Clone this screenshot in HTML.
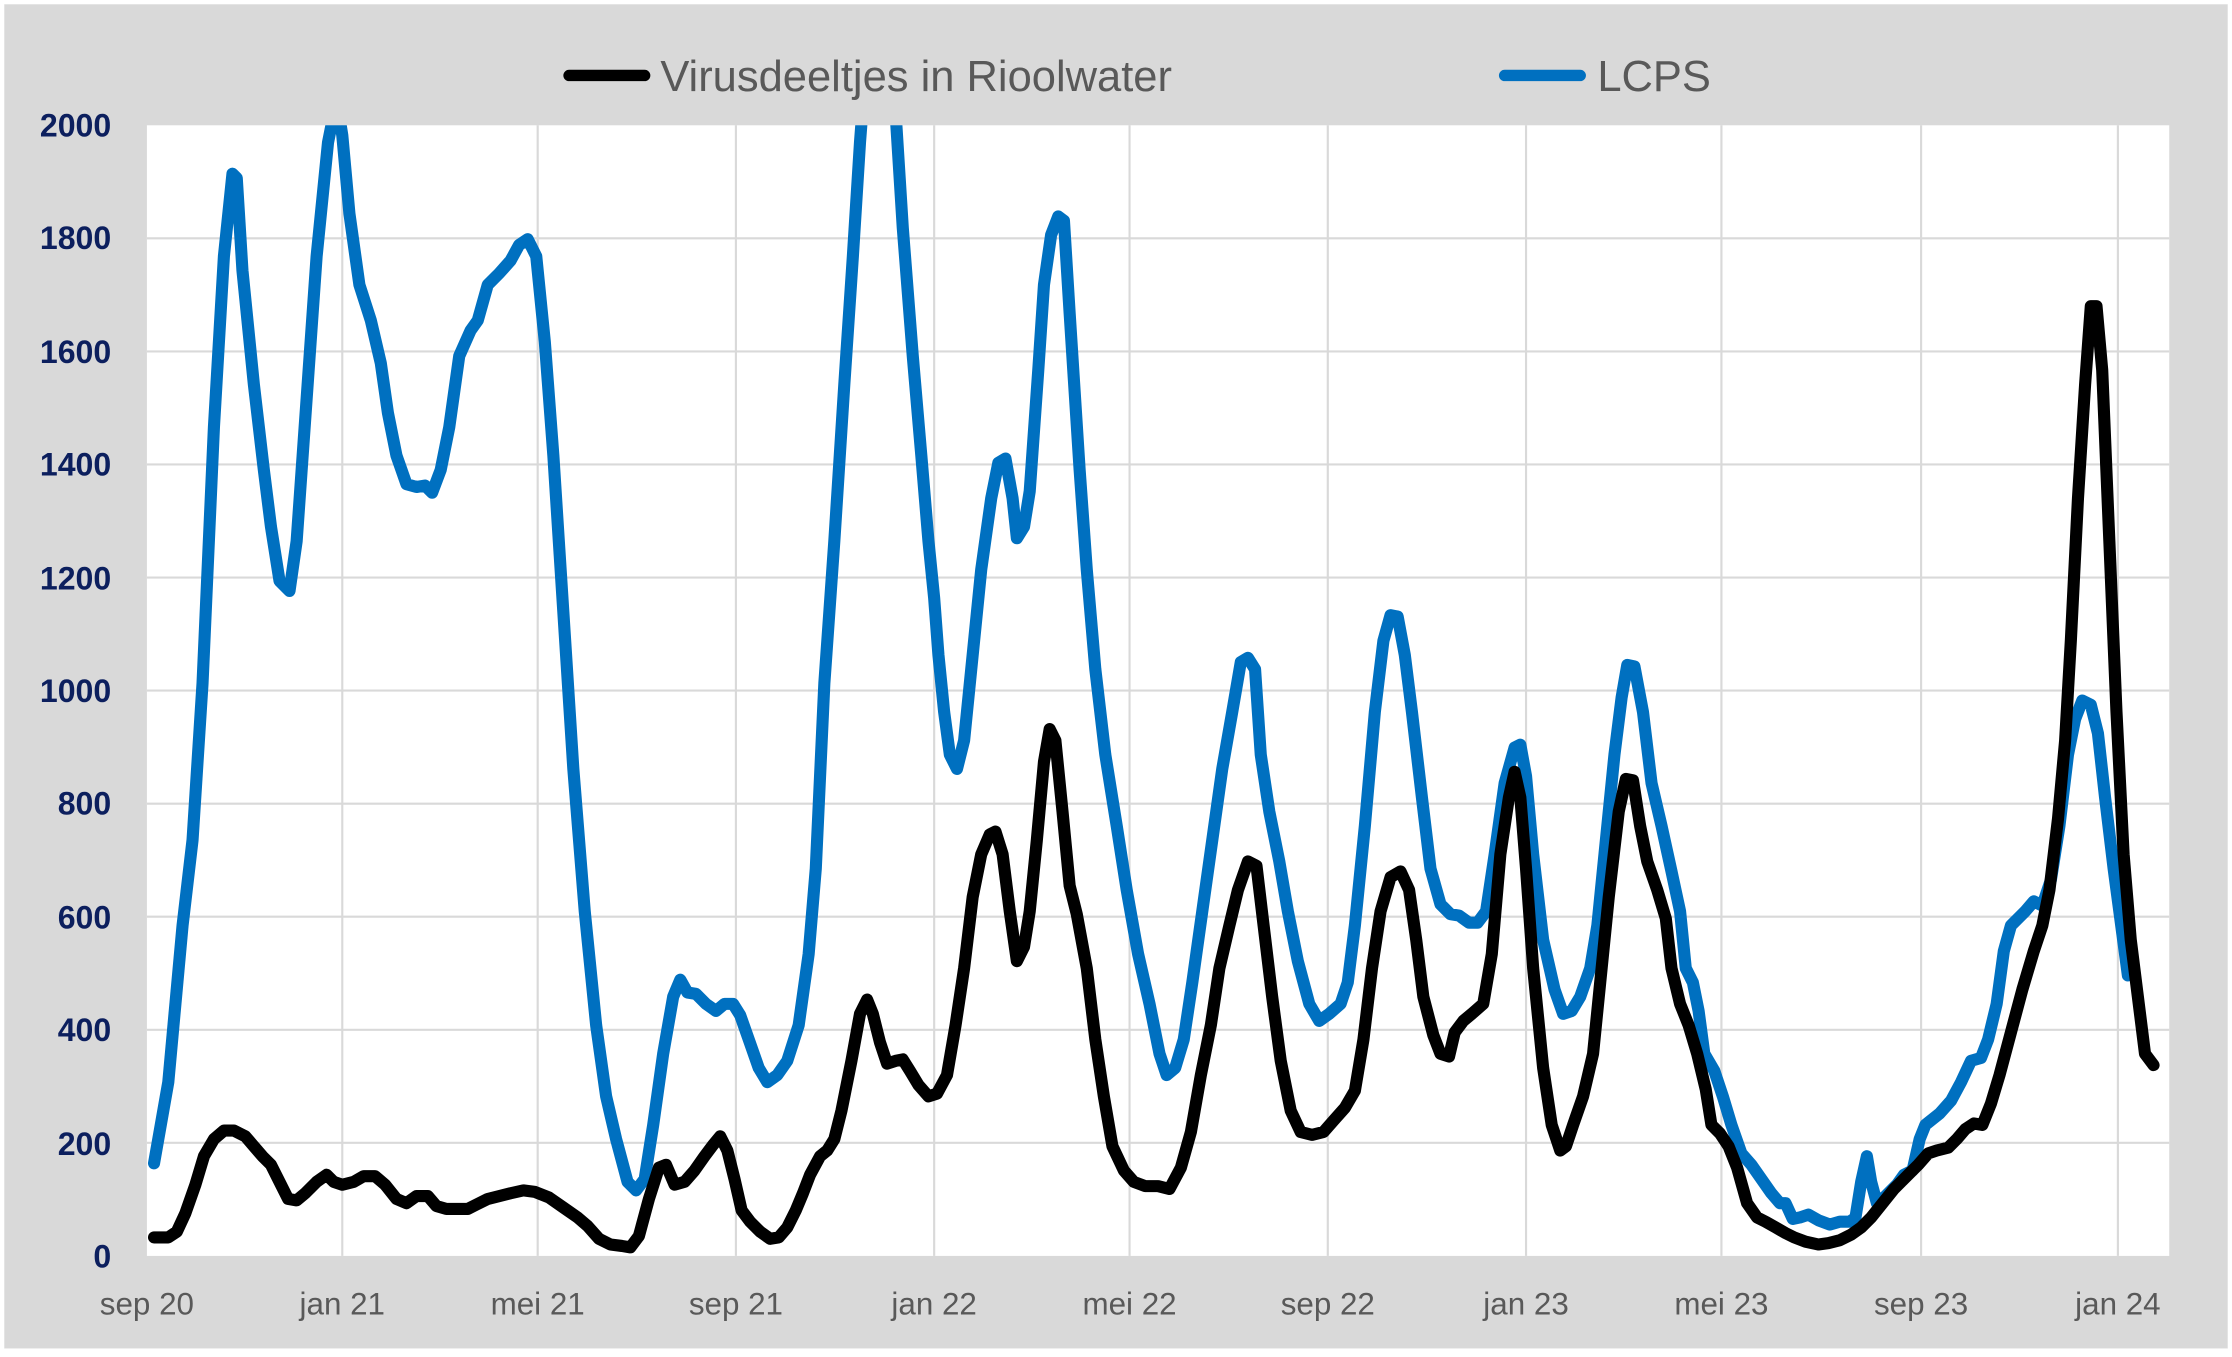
<!DOCTYPE html>
<html><head><meta charset="utf-8"><style>
html,body{margin:0;padding:0;background:#fff;}
svg{display:block;}
text{font-family:"Liberation Sans",sans-serif;}
</style></head><body>
<svg width="2232" height="1357" viewBox="0 0 1565 953" preserveAspectRatio="none" xmlns="http://www.w3.org/2000/svg">
<rect x="0" y="0" width="1565" height="953" fill="#fff"/>
<rect x="3" y="3" width="1559" height="944" fill="#d9d9d9"/>
<rect x="103" y="88" width="1418" height="794" fill="#fff"/>
<g stroke="#d9d9d9" stroke-width="1.5">
<line x1="103" y1="167.4" x2="1521" y2="167.4"/><line x1="103" y1="246.8" x2="1521" y2="246.8"/>
<line x1="103" y1="326.2" x2="1521" y2="326.2"/><line x1="103" y1="405.6" x2="1521" y2="405.6"/>
<line x1="103" y1="485" x2="1521" y2="485"/><line x1="103" y1="564.4" x2="1521" y2="564.4"/>
<line x1="103" y1="643.8" x2="1521" y2="643.8"/><line x1="103" y1="723.2" x2="1521" y2="723.2"/>
<line x1="103" y1="802.6" x2="1521" y2="802.6"/>
<line x1="240" y1="88" x2="240" y2="882"/><line x1="377" y1="88" x2="377" y2="882"/>
<line x1="516" y1="88" x2="516" y2="882"/><line x1="655" y1="88" x2="655" y2="882"/>
<line x1="792" y1="88" x2="792" y2="882"/><line x1="931" y1="88" x2="931" y2="882"/>
<line x1="1070" y1="88" x2="1070" y2="882"/><line x1="1207" y1="88" x2="1207" y2="882"/>
<line x1="1347" y1="88" x2="1347" y2="882"/><line x1="1485" y1="88" x2="1485" y2="882"/>
</g>
<g fill="#0c1f5e" font-size="22.5" font-weight="bold" text-anchor="end">
<text x="78" y="96">2000</text><text x="78" y="175">1800</text><text x="78" y="255">1600</text>
<text x="78" y="334">1400</text><text x="78" y="414">1200</text><text x="78" y="493">1000</text>
<text x="78" y="572">800</text><text x="78" y="652">600</text><text x="78" y="731">400</text>
<text x="78" y="811">200</text><text x="78" y="890">0</text>
</g>
<g fill="#595959" font-size="22" text-anchor="middle">
<text x="103" y="923">sep 20</text><text x="240" y="923">jan 21</text><text x="377" y="923">mei 21</text>
<text x="516" y="923">sep 21</text><text x="655" y="923">jan 22</text><text x="792" y="923">mei 22</text>
<text x="931" y="923">sep 22</text><text x="1070" y="923">jan 23</text><text x="1207" y="923">mei 23</text>
<text x="1347" y="923">sep 23</text><text x="1485" y="923">jan 24</text>
</g>
<line x1="399" y1="53" x2="452" y2="53" stroke="#000" stroke-width="8" stroke-linecap="round"/>
<text x="463" y="64" fill="#595959" font-size="30.5">Virusdeeltjes in Rioolwater</text>
<line x1="1055" y1="53" x2="1108" y2="53" stroke="#0070c0" stroke-width="8" stroke-linecap="round"/>
<text x="1120" y="64" fill="#595959" font-size="30.5">LCPS</text>
<defs><clipPath id="c"><rect x="103" y="88" width="1418" height="800"/></clipPath></defs>
<g clip-path="url(#c)" fill="none" stroke-width="8.5" stroke-linejoin="round" stroke-linecap="round">
<polyline stroke="#0070c0" points="108,817 118,760 128,650 135,590 142,480 150,300 157,180 163,122 166,125 170,190 178,270 185,330 190,370 196,408 203,415 208,380 215,280 222,180 230,100 236,70 240,95 245,150 252,200 260,225 267,255 272,290 278,320 285,340 292,342 298,341 303,346 309,330 315,300 322,250 330,232 335,225 342,200 350,192 358,183 364,172 370,168 376,180 382,240 388,320 395,430 402,540 410,640 418,720 425,770 432,800 440,830 446,836 452,828 458,790 465,740 472,700 477,688 482,697 488,698 495,705 502,710 508,705 514,705 519,713 525,730 532,750 538,760 545,755 552,745 560,720 567,670 572,610 578,480 585,380 592,270 598,180 603,100 606,60 616,40 628,80 633,160 640,250 646,320 651,380 655,420 658,460 662,500 666,530 671,540 676,520 681,470 688,400 695,350 700,325 705,322 710,350 713,378 718,370 722,345 728,260 732,200 737,165 742,152 746,155 750,220 757,330 762,400 768,470 775,530 783,580 790,625 798,670 806,705 813,740 818,755 824,750 830,730 836,690 843,640 850,590 857,540 864,500 870,465 875,462 880,470 884,530 890,570 897,605 903,640 910,675 918,705 925,717 932,712 940,705 945,690 950,650 957,580 964,500 970,450 975,432 980,433 985,460 990,500 997,560 1003,610 1010,635 1017,642 1023,643 1030,648 1036,648 1042,640 1048,600 1055,550 1062,525 1066,523 1070,545 1075,600 1082,660 1090,695 1096,712 1102,710 1108,700 1115,680 1120,650 1125,600 1132,530 1137,490 1141,467 1146,468 1152,500 1158,550 1165,580 1172,612 1178,640 1182,680 1187,690 1191,710 1195,740 1202,752 1208,770 1214,790 1221,810 1228,818 1235,828 1242,838 1248,845 1252,845 1257,856 1262,855 1268,853 1275,857 1283,860 1290,858 1297,858 1301,855 1305,830 1309,812 1312,830 1316,845 1322,840 1330,832 1335,825 1341,822 1346,800 1350,790 1360,782 1368,773 1375,760 1382,745 1389,743 1394,730 1400,705 1405,668 1410,650 1420,640 1426,633 1432,636 1438,618 1444,580 1450,530 1455,505 1460,492 1466,495 1471,515 1476,560 1482,610 1488,655 1492,685"/>
<polyline stroke="#000" points="108,869 118,869 124,865 130,852 137,832 143,812 150,800 157,794 164,794 172,798 178,805 184,812 190,818 196,830 202,842 208,843 214,838 222,830 229,825 234,830 240,832 248,830 255,826 263,826 270,832 278,842 285,845 292,840 300,840 306,847 313,849 320,849 328,849 334,846 342,842 350,840 358,838 367,836 375,837 385,841 395,848 405,855 412,861 420,870 428,874 436,875 442,876 448,868 455,842 462,820 467,818 473,832 480,830 487,822 494,812 500,804 505,798 510,808 515,828 520,850 526,858 533,865 540,870 546,869 552,862 558,850 563,838 568,825 575,812 580,808 585,800 590,780 597,745 603,712 608,702 612,712 617,732 622,747 628,745 633,744 638,752 644,762 651,770 657,768 664,755 670,720 676,680 682,630 688,600 694,586 698,584 703,600 708,640 713,675 718,665 722,640 727,590 732,535 736,512 740,520 745,570 750,622 755,642 762,680 768,730 774,770 780,805 788,822 795,830 803,833 812,833 820,835 828,820 835,795 842,755 849,720 855,680 862,650 868,625 875,605 881,608 886,650 892,700 898,745 905,780 912,795 920,797 928,795 935,787 943,778 950,766 956,730 962,680 968,640 975,616 982,612 988,625 993,660 998,700 1005,727 1010,740 1016,742 1020,725 1026,717 1032,712 1040,705 1046,670 1052,600 1058,560 1062,542 1066,560 1070,610 1075,680 1082,750 1088,790 1094,808 1098,805 1103,790 1110,770 1117,740 1122,690 1128,630 1135,570 1140,547 1145,548 1150,580 1155,605 1162,625 1168,645 1172,680 1178,705 1184,720 1190,740 1196,765 1200,790 1206,796 1212,805 1218,820 1225,845 1232,855 1238,858 1245,862 1252,866 1258,869 1266,872 1275,874 1282,873 1290,871 1298,867 1305,862 1312,855 1320,845 1328,835 1335,828 1345,818 1352,810 1358,808 1366,806 1372,800 1378,793 1384,789 1390,790 1396,775 1402,755 1410,725 1418,695 1426,668 1432,650 1437,625 1443,575 1448,520 1452,450 1457,350 1462,270 1466,215 1470,215 1474,260 1479,380 1484,500 1489,600 1494,660 1499,700 1504,740 1510,748"/>
</g>
</svg>
</body></html>
